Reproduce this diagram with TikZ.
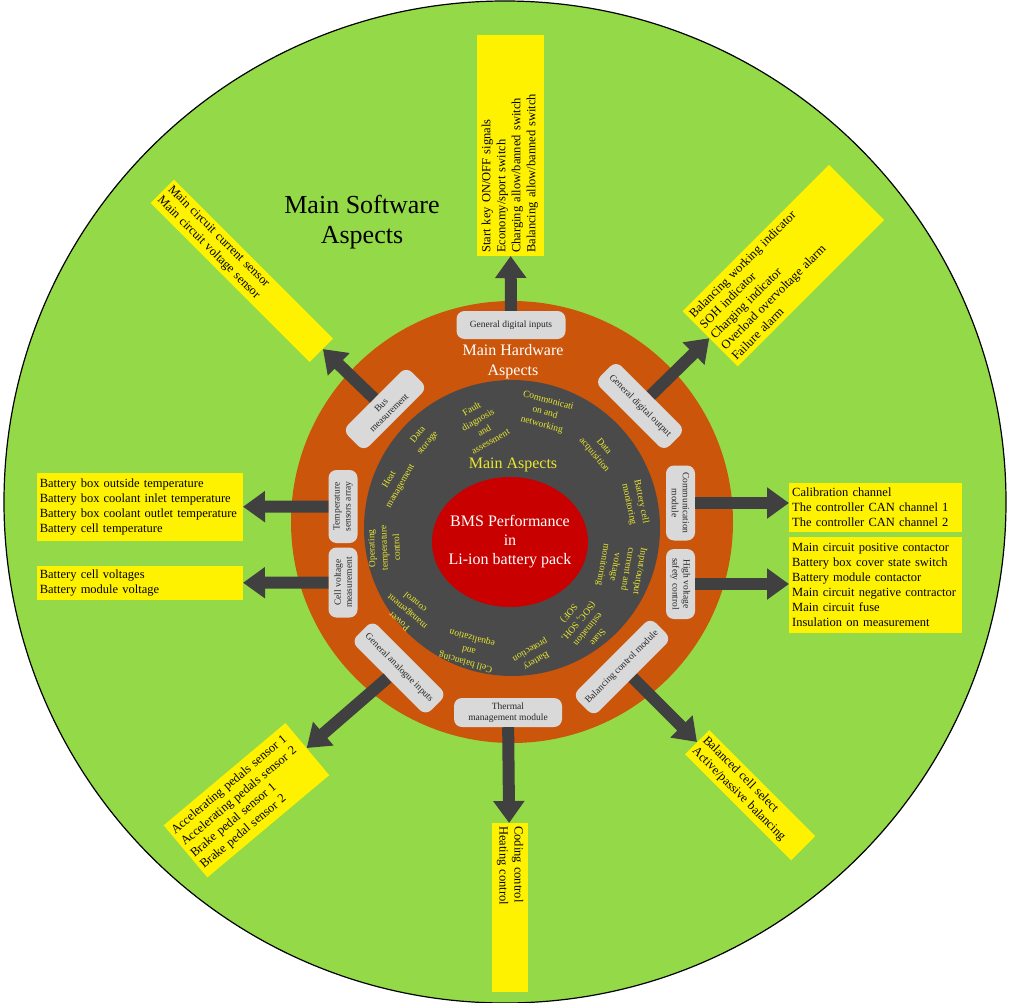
\documentclass[tikz,border=0pt]{standalone}
\usepackage{fontspec}
\setmainfont{Liberation Serif}
\usetikzlibrary{arrows.meta}
\definecolor{bggreen}{RGB}{148,218,72}
\definecolor{ringorange}{RGB}{204,85,12}
\definecolor{darkring}{RGB}{74,74,74}
\definecolor{corered}{RGB}{200,0,0}
\definecolor{boxgray}{RGB}{217,217,217}
\definecolor{arrowgray}{RGB}{64,64,64}
\definecolor{ringtext}{RGB}{232,232,50}
\begin{document}
\begin{tikzpicture}[x=1pt,y=-1pt,
  ybox/.style={fill=yellow, font=\fontsize{12.5}{15}\selectfont, align=left, inner sep=3pt},
  gbox/.style={fill=boxgray, rounded corners=8pt, font=\fontsize{9.5}{11}\selectfont, align=center, inner sep=1pt, text=black!85},
  ringtxt/.style={text=ringtext, font=\fontsize{9.5}{12.5}\selectfont, align=center, inner sep=0pt},
  bigarrow/.style={draw=arrowgray, line width=12pt, -{Triangle[length=22pt,width=30pt]}},
]
\useasboundingbox (0,0) rectangle (1009,1003);
% background disks
\fill[bggreen] (505,502) circle[radius=501pt];
\draw[black, line width=1.2pt] (505,502) circle[radius=501pt];
\fill[ringorange] (512,522) circle[radius=221pt];
\fill[darkring] (512,528) circle[radius=148pt];
\fill[corered] (510,542) ellipse[x radius=78pt, y radius=65pt];

% titles
\node[font=\fontsize{26}{30}\selectfont, align=center, text=black] (swtitle) at (362,222) {Main Software\\Aspects};
\node[font=\fontsize{16}{20}\selectfont, align=center, text=white] (hwtitle) at (513,362) {Main Hardware\\Aspects};
\node[font=\fontsize{16}{19}\selectfont, text=ringtext] (maintitle) at (513,465) {Main Aspects};
\node[font=\fontsize{16}{19}\selectfont, align=center, text=white] (core) at (510,542) {BMS Performance\\in\\Li-ion battery pack};

% ring texts
\node[ringtxt, rotate=50] (r1) at (423,439) {Data\\storage};
\node[ringtxt, rotate=30] (r2) at (481,425) {Fault\\diagnosis\\and\\assessment};
\node[ringtxt, rotate=-15] (r3) at (545,413) {Communicati\\on and\\networking};
\node[ringtxt, rotate=-50] (r4) at (599,451) {Data\\acquisition};
\node[ringtxt, rotate=-78] (r5) at (635,503) {Battery cell\\monitoring};
\node[ringtxt, rotate=-100] (r6) at (621,568) {Input/output\\current and\\voltage\\monitoring};
\node[ringtxt, rotate=-130] (r7) at (583,625) {State\\estimation\\(SOC, SOH,\\SOF)};
\node[ringtxt, rotate=-150] (r8) at (533,655) {Battery\\protection};
\node[ringtxt, rotate=165] (r9) at (469,650) {Cell balancing\\and\\equalization};
\node[ringtxt, rotate=140] (r10) at (407,612) {Power\\management\\control};
\node[ringtxt, rotate=92] (r11) at (384,548) {Operating\\temperature\\control};
\node[ringtxt, rotate=60] (r12) at (395,483) {Heat\\management};

% hardware boxes
\node[gbox, minimum width=109pt, minimum height=28pt] (gdi) at (511,325) {General digital inputs};
\node[gbox, minimum width=98pt, minimum height=30pt, rotate=-45] (gdo) at (640,406) {General digital output};
\node[gbox, minimum width=75pt, minimum height=29pt, rotate=-90] (comm) at (680.5,503) {Communication\\module};
\node[gbox, minimum width=70pt, minimum height=29pt, rotate=-90] (hv) at (680.5,584) {High voltage\\safety control};
\node[gbox, minimum width=110pt, minimum height=30pt, rotate=45] (bal) at (622,667) {Balancing control module};
\node[gbox, minimum width=108pt, minimum height=29pt] (therm) at (508,712.5) {Thermal\\management module};
\node[gbox, minimum width=105pt, minimum height=30pt, rotate=-45] (gai) at (399,668) {General analogue inputs};
\node[gbox, minimum width=70pt, minimum height=29pt, rotate=90] (cellv) at (343,582.5) {Cell voltage\\measurement};
\node[gbox, minimum width=73pt, minimum height=29pt, rotate=90] (temp) at (343,506.5) {Temperature\\sensors array};
\node[gbox, minimum width=90pt, minimum height=30pt, rotate=45] (bus) at (385,409) {Bus\\measurement};

% software (yellow) boxes
\node[ybox, rotate=90, anchor=west, text width=215pt, minimum height=67pt] (ytop) at (510,256)
  {Start key ON/OFF signals\\Economy/sport switch\\Charging allow/banned switch\\Balancing allow/banned switch};
\node[ybox, rotate=45, anchor=west, text width=201pt, minimum height=78pt] (yne) at (710,339)
  {Balancing working indicator\\SOH indicator\\Charging indicator\\Overload overvoltage alarm\\Failure alarm};
\node[ybox, rotate=-45, anchor=east, text width=219pt, minimum height=33pt, inner ysep=1pt] (ynw) at (321.5,350.5)
  {Main circuit current sensor\\Main circuit voltage sensor};
\node[ybox, anchor=east, text width=200pt, minimum height=68pt] (ytemp) at (243,507)
  {Battery box outside temperature\\Battery box coolant inlet temperature\\Battery box coolant outlet temperature\\Battery cell temperature};
\node[ybox, anchor=east, text width=200pt, minimum height=34pt, inner ysep=1pt] (ycell) at (243,583)
  {Battery cell voltages\\Battery module voltage};
\node[ybox, anchor=west, text width=167pt, minimum height=49pt, inner ysep=1pt] (ycal) at (789,507)
  {Calibration channel\\The controller CAN channel 1\\The controller CAN channel 2};
\node[ybox, anchor=west, text width=167pt, minimum height=96pt] (ymain) at (789,585)
  {Main circuit positive contactor\\Battery box cover state switch\\Battery module contactor\\Main circuit negative contractor\\Main circuit fuse\\Insulation on measurement};
\node[ybox, rotate=-45, anchor=west, text width=144pt, minimum height=34pt, inner ysep=1pt] (yse) at (697,742)
  {Balanced cell select\\Active/passive balancing};
\node[ybox, rotate=-90, anchor=west, text width=163pt, minimum height=36pt, inner ysep=1pt] (ysouth) at (510,823)
  {Coding control\\Heating control};
\node[ybox, rotate=40, anchor=east, text width=153pt, minimum height=68pt] (ysw) at (307.5,749)
  {Accelerating pedals sensor 1\\Accelerating pedals sensor 2\\Brake pedal sensor 1\\Brake pedal sensor 2};

% arrows
\draw[bigarrow] (gdi) -- (ytop);
\draw[bigarrow] (gdo) -- (yne);
\draw[bigarrow] (bus) -- (ynw);
\draw[bigarrow] (temp) -- (ytemp);
\draw[bigarrow] (cellv) -- (ycell);
\draw[bigarrow] (comm) -- (comm -| ycal.west);
\draw[bigarrow] (hv) -- (hv -| ymain.west);
\draw[bigarrow] (bal) -- (yse);
\draw[bigarrow] (therm) -- (ysouth);
\draw[bigarrow] (gai) -- (ysw);
\end{tikzpicture}
\end{document}
